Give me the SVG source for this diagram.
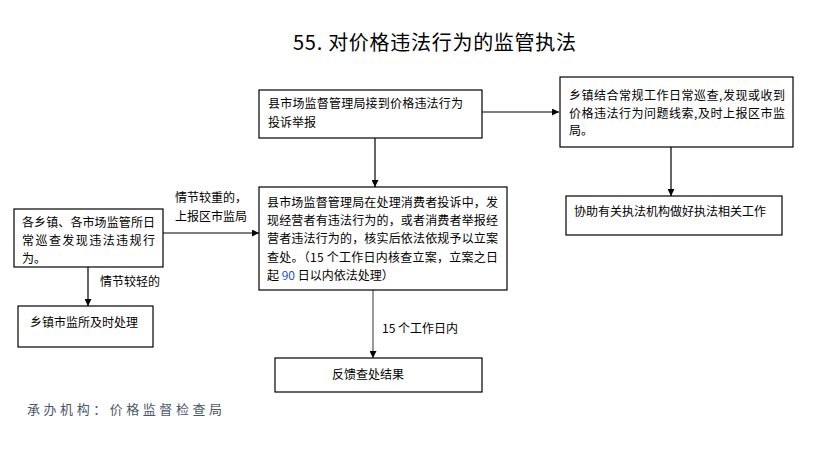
<svg xmlns="http://www.w3.org/2000/svg" width="827" height="459" viewBox="0 0 827 459">
<style>
.box{fill:#fff;stroke:#000;stroke-width:1.2}
.t{font-family:"Noto Sans CJK SC","Liberation Sans",sans-serif;font-size:12px;fill:#000}
.ln{stroke:#000;stroke-width:1.2;fill:none}
</style>
<defs>
<marker id="ah" viewBox="0 0 10 10" refX="10" refY="5" markerWidth="7" markerHeight="7" orient="auto" markerUnits="userSpaceOnUse">
<path d="M0,0 L10,5 L0,10 z" fill="#000"/>
</marker>
</defs>
<rect width="827" height="459" fill="#fff"/>
<text x="293" y="50" font-family="Noto Sans CJK SC,Liberation Sans,sans-serif" font-size="20" fill="#000" textLength="283">55. 对价格违法行为的监管执法</text>
<g id="connectors">
<line class="ln" x1="482" y1="112" x2="559" y2="112" marker-end="url(#ah)"/>
<line class="ln" x1="375" y1="138" x2="375" y2="187" marker-end="url(#ah)"/>
<line class="ln" x1="163" y1="233" x2="259" y2="233" marker-end="url(#ah)"/>
<line class="ln" x1="88" y1="267" x2="88" y2="306" marker-end="url(#ah)"/>
<line class="ln" x1="671" y1="147" x2="671" y2="196" marker-end="url(#ah)"/>
<line x1="373" y1="290" x2="373" y2="358" stroke="#555" stroke-width="1.2" marker-end="url(#ah)"/>
<text class="t" x="175" y="202">情节较重的，</text>
<text class="t" x="175" y="221">上报区市监局</text>
<text class="t" x="100" y="286">情节较轻的</text>
<text class="t" x="382" y="333">15 个工作日内</text>
</g>
<g id="nodeA">
<rect class="box" x="259" y="90" width="223" height="48"/>
<text class="t" x="268" y="108" textLength="195">县市场监督管理局接到价格违法行为</text>
<text class="t" x="268" y="127">投诉举报</text>
</g>
<g id="nodeB">
<rect class="box" x="259" y="187" width="248" height="103"/>
<text class="t" x="267" y="207" textLength="231">县市场监督管理局在处理消费者投诉中，发</text>
<text class="t" x="267" y="225" textLength="231">现经营者有违法行为的，或者消费者举报经</text>
<text class="t" x="267" y="243" textLength="231">营者违法行为的，核实后依法依规予以立案</text>
<text class="t" x="267" y="262" textLength="231">查处。（15 个工作日内核查立案，立案之日</text>
<text class="t" x="267" y="280">起 <tspan fill="#1a56c8">90</tspan> 日以内依法处理）</text>
</g>
<g id="nodeC">
<rect class="box" x="14" y="209" width="149" height="58"/>
<text class="t" x="22" y="227" textLength="133">各乡镇、各市场监管所日</text>
<text class="t" x="22" y="245" textLength="133">常巡查发现违法违规行</text>
<text class="t" x="22" y="263">为。</text>
</g>
<g id="nodeD">
<rect class="box" x="18" y="306" width="135" height="41"/>
<text class="t" x="30" y="327">乡镇市监所及时处理</text>
</g>
<g id="nodeE">
<rect class="box" x="560" y="77" width="233" height="70"/>
<text class="t" x="569" y="100" textLength="216">乡镇结合常规工作日常巡查,发现或收到</text>
<text class="t" x="569" y="118" textLength="216">价格违法行为问题线索,及时上报区市监</text>
<text class="t" x="569" y="135">局。</text>
</g>
<g id="nodeF">
<rect class="box" x="566" y="196" width="216" height="39"/>
<text class="t" x="574" y="216">协助有关执法机构做好执法相关工作</text>
</g>
<g id="nodeG">
<rect class="box" x="275" y="358" width="207" height="34"/>
<text class="t" x="368" y="379" text-anchor="middle">反馈查处结果</text>
</g>
<text x="27" y="414" font-family="Noto Sans CJK SC,Liberation Sans,sans-serif" font-size="13" fill="#4a5868" textLength="195">承办机构：价格监督检查局</text>
</svg>
